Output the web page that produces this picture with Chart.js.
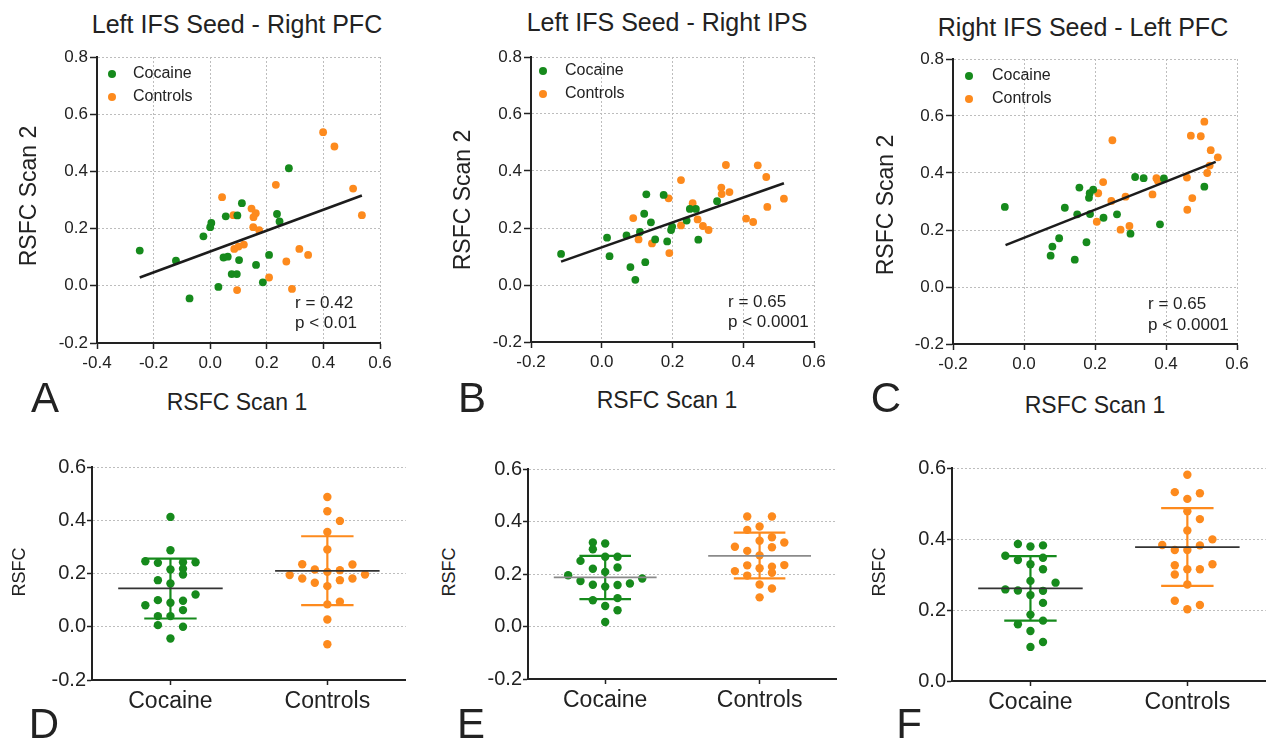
<!DOCTYPE html>
<html>
<head>
<meta charset="utf-8">
<script src="https://cdn.jsdelivr.net/npm/chart.js@4.4.1/dist/chart.umd.min.js"></script>
<style>
  body { margin: 0; width: 1269px; height: 740px; background: #fff; overflow: hidden; position: relative;
         font-family: "Liberation Sans", Arial, sans-serif; color: #222; }
  canvas { position: absolute; }
  .lbl { position: absolute; white-space: nowrap; line-height: 1; transform: translate(-50%, -50%); }
  .lbl.left { transform: translate(0, -50%); }
  .lbl.vert { transform: translate(-50%, -50%) rotate(-90deg); }
</style>
</head>
<body>
<canvas id="chartA"></canvas>
<canvas id="chartB"></canvas>
<canvas id="chartC"></canvas>
<canvas id="chartD"></canvas>
<canvas id="chartE"></canvas>
<canvas id="chartF"></canvas>
<script>
// ---- scatter panels (RSFC scan 1 vs scan 2) ----
var aCocX = [-0.249, -0.121, -0.073, -0.024, 0.0, 0.004, 0.029, 0.047, 0.062, 0.055, 0.096, 0.112, 0.102, 0.076, 0.094, 0.162, 0.186, 0.208, 0.236, 0.245, 0.278];
var aCocY = [0.123, 0.088, -0.044, 0.173, 0.205, 0.22, -0.004, 0.099, 0.102, 0.243, 0.246, 0.289, 0.09, 0.041, 0.041, 0.073, 0.012, 0.108, 0.251, 0.225, 0.411];
var aConX = [0.042, 0.082, 0.146, 0.161, 0.153, 0.152, 0.173, 0.232, 0.085, 0.1, 0.119, 0.095, 0.208, 0.269, 0.289, 0.315, 0.346, 0.399, 0.439, 0.505, 0.536];
var aConY = [0.31, 0.247, 0.27, 0.254, 0.24, 0.205, 0.195, 0.353, 0.129, 0.137, 0.144, -0.015, 0.029, 0.085, -0.011, 0.129, 0.108, 0.537, 0.487, 0.34, 0.247];
var aFitX = [-0.249, 0.536];
var aFitY = [0.029, 0.316];

var bCocX = [-0.115, 0.015, 0.022, 0.07, 0.081, 0.095, 0.108, 0.12, 0.123, 0.126, 0.139, 0.151, 0.175, 0.185, 0.196, 0.199, 0.24, 0.249, 0.266, 0.273, 0.326];
var bCocY = [0.109, 0.166, 0.101, 0.174, 0.063, 0.018, 0.186, 0.25, 0.08, 0.318, 0.22, 0.16, 0.316, 0.153, 0.193, 0.205, 0.226, 0.267, 0.267, 0.159, 0.294];
var bConX = [0.089, 0.104, 0.142, 0.189, 0.191, 0.224, 0.224, 0.257, 0.271, 0.286, 0.302, 0.338, 0.339, 0.351, 0.361, 0.408, 0.428, 0.441, 0.465, 0.468, 0.515];
var bConY = [0.235, 0.16, 0.146, 0.304, 0.112, 0.368, 0.209, 0.287, 0.23, 0.207, 0.193, 0.342, 0.319, 0.421, 0.326, 0.233, 0.221, 0.42, 0.379, 0.274, 0.303];
var bFitX = [-0.115, 0.515];
var bFitY = [0.082, 0.357];

var cCocX = [-0.054, 0.075, 0.08, 0.099, 0.115, 0.143, 0.15, 0.156, 0.176, 0.183, 0.185, 0.186, 0.195, 0.224, 0.262, 0.3, 0.313, 0.337, 0.383, 0.394, 0.508];
var cCocY = [0.281, 0.11, 0.142, 0.171, 0.278, 0.096, 0.255, 0.349, 0.157, 0.313, 0.329, 0.256, 0.342, 0.243, 0.255, 0.187, 0.386, 0.382, 0.22, 0.381, 0.352];
var cConX = [0.205, 0.209, 0.223, 0.246, 0.249, 0.272, 0.286, 0.297, 0.362, 0.373, 0.377, 0.459, 0.46, 0.47, 0.474, 0.498, 0.508, 0.516, 0.523, 0.526, 0.546];
var cConY = [0.229, 0.329, 0.368, 0.302, 0.515, 0.201, 0.317, 0.214, 0.325, 0.382, 0.373, 0.384, 0.271, 0.531, 0.312, 0.529, 0.58, 0.4, 0.426, 0.48, 0.455];
var cFitX = [-0.052, 0.54];
var cFitY = [0.147, 0.439];

// ---- dot plots (column = jitter slot, value = RSFC) ----
var groups = ['Cocaine', 'Controls'];

var dCocCol = [0, 0, -2, -1, 1, 2, 0, 1, 1, -1, 0, 2, -1, 1, 0, -2, 1, -1, 0, -1, 1, 0];
var dCocVal = [0.4125, 0.2875, 0.246, 0.24, 0.2425, 0.2425, 0.215, 0.2175, 0.196, 0.175, 0.1625, 0.121, 0.1, 0.0975, 0.09, 0.081, 0.0625, 0.04, 0.04, 0.006, 0.0, -0.044];
var dConCol = [0, 0, 1, 0, 0, -2, 2, -3, -1, 1, 0, -2, -1, 1, 2, 3, 0, 0, 1, 0, 0];
var dConVal = [0.4875, 0.434, 0.3975, 0.356, 0.29, 0.235, 0.234, 0.194, 0.215, 0.2125, 0.206, 0.181, 0.165, 0.175, 0.181, 0.196, 0.1525, 0.084, 0.094, 0.0275, -0.066];
var dMean = [0.144, 0.21];
var dSdHi = [0.256, 0.34];
var dSdLo = [0.031, 0.081];

var eCocCol = [-1, 0, -1, -2, 0, 1, -1, 1, -3, 0, -2, 3, -1, 0, 1, 2, -1, 1, 0, 1, 0];
var eCocVal = [0.32, 0.316, 0.294, 0.25, 0.266, 0.266, 0.22, 0.225, 0.195, 0.208, 0.173, 0.183, 0.159, 0.152, 0.158, 0.164, 0.1, 0.108, 0.078, 0.062, 0.017];
var eConCol = [-1, 1, -1, 0, 1, -2, 0, 2, -1, 1, 0, -2, -1, 1, 2, 0, -1, 1, 0, 1, 0];
var eConVal = [0.419, 0.419, 0.368, 0.381, 0.34, 0.304, 0.327, 0.32, 0.288, 0.302, 0.271, 0.211, 0.233, 0.228, 0.234, 0.222, 0.194, 0.205, 0.16, 0.145, 0.111];
var eMean = [0.187, 0.269];
var eSdHi = [0.269, 0.358];
var eSdLo = [0.104, 0.183];

var fCocCol = [-1, 0, 1, -2, -1, 1, 0, 1, 0, 2, -2, -1, 1, 0, 1, 0, 1, -1, 0, 1, 0];
var fCocVal = [0.386, 0.379, 0.382, 0.353, 0.341, 0.347, 0.329, 0.315, 0.282, 0.277, 0.258, 0.255, 0.254, 0.242, 0.22, 0.187, 0.17, 0.16, 0.141, 0.11, 0.096];
var fConCol = [0, -1, 1, 0, 0, 1, 0, 2, -2, 1, -1, 0, -1, 2, 0, 1, -1, 0, -1, 1, 0];
var fConVal = [0.581, 0.532, 0.529, 0.513, 0.478, 0.456, 0.424, 0.399, 0.383, 0.382, 0.369, 0.369, 0.326, 0.329, 0.315, 0.315, 0.3, 0.272, 0.226, 0.214, 0.202];
var fMean = [0.261, 0.377];
var fSdHi = [0.352, 0.487];
var fSdLo = [0.17, 0.268];

var GREEN = '#168a1c';
var ORANGE = '#fd8a1d';
var GRID = '#bdbdbd';
var INK = '#222';
var FONT = '"Liberation Sans", Arial, sans-serif';
var JITTER = 0.08;     // x offset per jitter slot, in category units
var MEAN_HALF = 0.333;
var CAP_HALF = 0.167;

function pts(xs, ys) {
    return xs.map(function (x, i) { return { x: x, y: ys[i] }; });
}

function fmt(v) {
    return Math.abs(v) < 1e-9 ? '0.0' : v.toFixed(1);
}

// size the canvas so that the plot area lands on the given box
function placeCanvas(id, box, pad) {
    var c = document.getElementById(id);
    var w = box[2] - box[0] + pad.y + pad.right;
    var h = box[3] - box[1] + pad.top + pad.x;
    c.style.left = (box[0] - pad.y) + 'px';
    c.style.top = (box[1] - pad.top) + 'px';
    c.width = w; c.height = h;
    c.style.width = w + 'px'; c.style.height = h + 'px';
    return c;
}

var insideLegend = {
    id: 'insideLegend',
    afterDatasetsDraw: function (chart, args, opts) {
        if (!opts || !opts.show) {
            return;
        }
        var ctx = chart.ctx;
        var a = chart.chartArea;
        ctx.save();
        ctx.font = '16px ' + FONT;
        ctx.textBaseline = 'middle';
        var row = 0;
        chart.data.datasets.forEach(function (ds) {
            if (!ds.label) {
                return;
            }
            var y = a.top + opts.dy + row * opts.gap;
            ctx.fillStyle = ds.pointBackgroundColor;
            ctx.beginPath();
            ctx.arc(a.left + opts.dx, y, 4, 0, Math.PI * 2);
            ctx.fill();
            ctx.fillStyle = INK;
            ctx.fillText(ds.label, a.left + opts.tx, y);
            row++;
        });
        ctx.restore();
    }
};

function scatterChart(id, box, xMin, coc, con, fit, leg) {
    var pad = { y: 90, x: 40, top: 14, right: 24 };
    var canvas = placeCanvas(id, box, pad);
    return new Chart(canvas, {
        type: 'scatter',
        data: {
            datasets: [
                { type: 'line', data: pts(fit[0], fit[1]), borderColor: '#1c1c1c', borderWidth: 2.6,
                  pointRadius: 0, fill: false },
                { label: 'Cocaine', data: pts(coc[0], coc[1]), pointBackgroundColor: GREEN,
                  pointBorderWidth: 0, pointRadius: 3.9 },
                { label: 'Controls', data: pts(con[0], con[1]), pointBackgroundColor: ORANGE,
                  pointBorderWidth: 0, pointRadius: 3.9 }
            ]
        },
        options: {
            responsive: false,
            animation: false,
            events: [],
            layout: { padding: { left: 0, top: pad.top, right: pad.right, bottom: 0 } },
            plugins: { legend: { display: false }, tooltip: { enabled: false },
                       insideLegend: { show: true, dx: leg[0], dy: leg[1], tx: leg[2], gap: 23 } },
            scales: {
                x: {
                    type: 'linear', min: xMin, max: 0.6,
                    ticks: { stepSize: 0.2, color: INK, padding: 4, maxRotation: 0,
                             font: { family: FONT, size: 17 }, callback: fmt },
                    grid: { color: GRID, lineWidth: 1, tickColor: INK, tickLength: 6, tickWidth: 1.5 },
                    border: { display: true, color: INK, width: 2, dash: [2, 2] },
                    afterFit: function (s) { s.height = pad.x; s.paddingLeft = 0; s.paddingRight = 0; }
                },
                y: {
                    type: 'linear', min: -0.2, max: 0.8,
                    ticks: { stepSize: 0.2, color: INK, padding: 2,
                             font: { family: FONT, size: 17 }, callback: fmt },
                    grid: { color: GRID, lineWidth: 1, tickColor: INK, tickLength: 7, tickWidth: 1.5 },
                    border: { display: true, color: INK, width: 2, dash: [2, 2] },
                    afterFit: function (s) { s.width = pad.y; s.paddingTop = 0; s.paddingBottom = 0; }
                }
            }
        },
        plugins: [insideLegend]
    });
}

function dotChart(id, box, yMin, coc, con, mean, hi, lo, meanColor) {
    var pad = { y: 60, x: 40, top: 14, right: 0 };
    var canvas = placeCanvas(id, box, pad);
    var series = [coc, con];
    var colors = [GREEN, ORANGE];
    var lines = [];
    var dots = [];
    series.forEach(function (s, g) {
        lines.push({ type: 'line', data: [{ x: g - MEAN_HALF, y: mean[g] }, { x: g + MEAN_HALF, y: mean[g] }],
                     borderColor: meanColor, borderWidth: 1.6, pointRadius: 0, fill: false });
        lines.push({ type: 'line', spanGaps: false, borderColor: colors[g], borderWidth: 2.2,
                     pointRadius: 0, fill: false,
                     data: [{ x: g - CAP_HALF, y: hi[g] }, { x: g + CAP_HALF, y: hi[g] }, { x: g, y: null },
                            { x: g, y: hi[g] }, { x: g, y: lo[g] }, { x: g, y: null },
                            { x: g - CAP_HALF, y: lo[g] }, { x: g + CAP_HALF, y: lo[g] }] });
        dots.push({ data: s[1].map(function (v, i) { return { x: g + s[0][i] * JITTER, y: v }; }),
                    pointBackgroundColor: colors[g], pointBorderWidth: 0, pointRadius: 4.2 });
    });
    return new Chart(canvas, {
        type: 'scatter',
        data: { datasets: lines.concat(dots) },
        options: {
            responsive: false,
            animation: false,
            events: [],
            layout: { padding: { left: 0, top: pad.top, right: pad.right, bottom: 0 } },
            plugins: { legend: { display: false }, tooltip: { enabled: false } },
            scales: {
                x: {
                    type: 'linear', min: -0.5, max: 1.5,
                    afterBuildTicks: function (s) { s.ticks = groups.map(function (g, i) { return { value: i }; }); },
                    ticks: { color: INK, padding: 3, maxRotation: 0, autoSkip: false,
                             font: { family: FONT, size: 23 },
                             callback: function (v) { return groups[v]; } },
                    grid: { drawOnChartArea: false, tickColor: INK, tickLength: 5, tickWidth: 1.5 },
                    border: { display: true, color: INK, width: 2 },
                    afterFit: function (s) { s.height = pad.x; s.paddingLeft = 0; s.paddingRight = 0; }
                },
                y: {
                    type: 'linear', min: yMin, max: 0.6,
                    ticks: { stepSize: 0.2, color: INK, padding: 1,
                             font: { family: FONT, size: 20 }, callback: fmt },
                    grid: { color: GRID, lineWidth: 1, tickColor: INK, tickLength: 5, tickWidth: 1.5 },
                    border: { display: true, color: INK, width: 2, dash: [2, 2] },
                    afterFit: function (s) { s.width = pad.y; s.paddingTop = 0; s.paddingBottom = 0; }
                }
            }
        }
    });
}

scatterChart('chartA', [97, 57, 380, 343], -0.4, [aCocX, aCocY], [aConX, aConY], [aFitX, aFitY], [15, 17, 36]);
scatterChart('chartB', [531, 57, 814, 342], -0.2, [bCocX, bCocY], [bConX, bConY], [bFitX, bFitY], [12, 14, 34]);
scatterChart('chartC', [953, 59, 1237, 344], -0.2, [cCocX, cCocY], [cConX, cConY], [cFitX, cFitY], [16, 17, 39]);

dotChart('chartD', [92, 467, 410, 680], -0.2, [dCocCol, dCocVal], [dConCol, dConVal], dMean, dSdHi, dSdLo, '#333');
dotChart('chartE', [528, 469, 841, 679], -0.2, [eCocCol, eCocVal], [eConCol, eConVal], eMean, eSdHi, eSdLo, '#8a8a8a');
dotChart('chartF', [952, 468, 1270, 681], 0.0, [fCocCol, fCocVal], [fConCol, fConVal], fMean, fSdHi, fSdLo, '#333');

// ---- text around the plots ----
var texts = [
    ['Left IFS Seed - Right PFC', 237, 24, 25, ''],
    ['Left IFS Seed - Right IPS', 667, 22, 25, ''],
    ['Right IFS Seed - Left PFC', 1083, 27, 25, ''],
    ['RSFC Scan 2', 27.5, 196, 23, 'vert'],
    ['RSFC Scan 2', 462, 200, 23, 'vert'],
    ['RSFC Scan 2', 885, 205, 23, 'vert'],
    ['RSFC Scan 1', 237, 402, 23, ''],
    ['RSFC Scan 1', 667, 400, 23, ''],
    ['RSFC Scan 1', 1095, 405, 23, ''],
    ['A', 45, 398, 42, ''],
    ['B', 472, 398, 42, ''],
    ['C', 886, 398, 42, ''],
    ['r = 0.42', 295, 302, 17, 'left'],
    ['p < 0.01', 295, 322, 17, 'left'],
    ['r = 0.65', 728, 301, 17, 'left'],
    ['p < 0.0001', 728, 321, 17, 'left'],
    ['r = 0.65', 1148, 303, 17, 'left'],
    ['p < 0.0001', 1148, 324, 17, 'left'],
    ['RSFC', 18.5, 572, 18, 'vert'],
    ['RSFC', 448.5, 572, 18, 'vert'],
    ['RSFC', 878.5, 572, 18, 'vert'],
    ['D', 44, 724, 42, ''],
    ['E', 471, 724, 42, ''],
    ['F', 909, 724, 42, '']
];
texts.forEach(function (t) {
    var el = document.createElement('div');
    el.className = 'lbl' + (t[4] ? ' ' + t[4] : '');
    el.textContent = t[0];
    el.style.left = t[1] + 'px';
    el.style.top = t[2] + 'px';
    el.style.fontSize = t[3] + 'px';
    document.body.appendChild(el);
});
</script>
</body>
</html>
